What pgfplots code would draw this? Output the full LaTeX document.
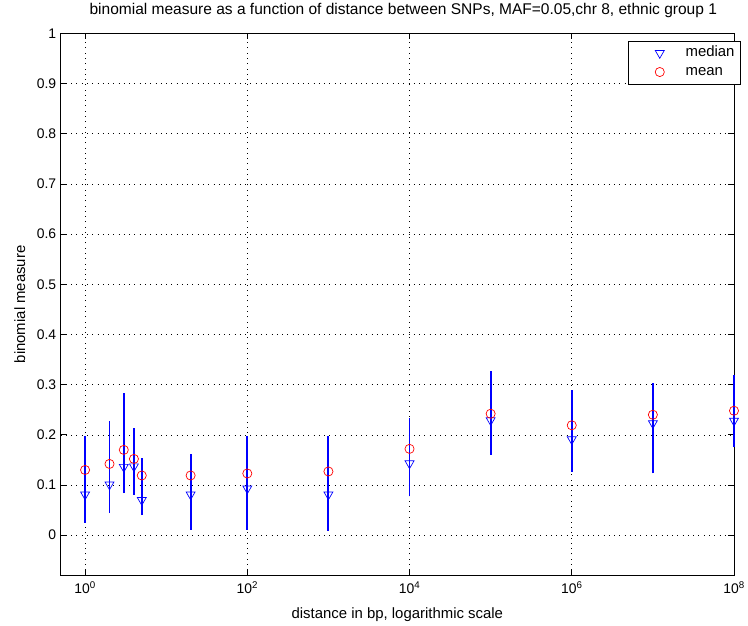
\documentclass[border=0pt]{standalone}
\usepackage{pgfplots}
\pgfplotsset{compat=1.18}
\usepackage{pgfplotstable}
\usepackage{fontspec}
\setmainfont{Liberation Sans}
\pgfplotstableread{
x      med    mean
1      0.081  0.130
2      0.101  0.142
3      0.136  0.170
4      0.137  0.152
5      0.070  0.119
20     0.081  0.119
100    0.093  0.123
1000   0.081  0.127
1e4    0.143  0.172
1e5    0.229  0.242
1e6    0.191  0.219
1e7    0.223  0.240
1e8    0.228  0.248
}\datatable
\begin{document}
\begin{tikzpicture}[x=1pt,y=1pt]
\begin{axis}[
  at={(0pt,0pt)}, anchor=south west,
  scale only axis, width=677pt, height=545pt,
  xmode=log, xmin=0.5, xmax=1e8,
  ymin=-0.08, ymax=1,
  xtick={1,1e2,1e4,1e6,1e8},
  xticklabels={10\textsuperscript{0},10\textsuperscript{2},10\textsuperscript{4},10\textsuperscript{6},10\textsuperscript{8}},
  minor xtick={},
  ytick={0,0.1,0.2,0.3,0.4,0.5,0.6,0.7,0.8,0.9,1},
  yticklabels={0,0.1,0.2,0.3,0.4,0.5,0.6,0.7,0.8,0.9,1},
  tick align=inside, tick pos=both,
  major tick length=6pt,
  grid=major,
  major grid style={black, dash pattern=on 0.8pt off 4.5pt, line width=0.6pt},
  axis line style={black, line width=0.9pt},
  tick style={black, line width=0.7pt},
  title={binomial measure as a function of distance between SNPs, MAF=0.05,chr 8, ethnic group 1},
  title style={at={(0.5,1)}, anchor=base, yshift=12.5pt, xshift=6pt, font=\fontsize{15.6}{18}\selectfont},
  xlabel={distance in bp, logarithmic scale},
  ylabel={binomial measure},
  xlabel style={font=\fontsize{15}{18}\selectfont, at={(0.5,0)}, anchor=base, yshift=-43.7pt},
  ylabel style={font=\fontsize{15}{18}\selectfont, at={(-0.0606,0.5)}, anchor=center},
  x tick label style={font=\fontsize{14}{16}\selectfont, yshift=-3pt},
  y tick label style={font=\fontsize{14}{16}\selectfont, xshift=-1pt},
  legend style={at={(rel axis cs:1.0103,0.9862)}, anchor=north east,
    draw=black, line width=0.8pt, font=\fontsize{15}{18}\selectfont,
    inner xsep=3pt, inner ysep=2.5pt, row sep=0pt, column sep=0pt, legend cell align=left,
    nodes={draw=none, inner xsep=3pt, inner ysep=2.5pt, text height=10.5pt, text depth=3.5pt}},
  legend image code/.code={\path[draw=none, fill=none] (0pt,-5pt) rectangle (52pt,5pt); \draw plot coordinates {(29pt,0pt)};},
  clip=false,
  unbounded coords=jump,
]
\addplot[blue, line width=1.9pt, forget plot] coordinates {
  (1,0.025) (1,0.197) (1,nan)
  (2,0.044) (2,0.228) (2,nan)
  (3,0.084) (3,0.283) (3,nan)
  (4,0.081) (4,0.214) (4,nan)
  (5,0.040) (5,0.154) (5,nan)
  (20,0.011) (20,0.161) (20,nan)
  (100,0.011) (100,0.197) (100,nan)
  (1000,0.009) (1000,0.197) (1000,nan)
  (1e4,0.078) (1e4,0.234) (1e4,nan)
  (1e5,0.160) (1e5,0.328) (1e5,nan)
  (1e6,0.126) (1e6,0.290) (1e6,nan)
  (1e7,0.123) (1e7,0.303) (1e7,nan)
  (1e8,0.175) (1e8,0.319)
};
\addplot[only marks, blue, mark=triangle, mark size=5.2pt,
  mark options={rotate=180, line width=0.7pt, fill=none, solid}]
  table[x=x, y=med] {\datatable};
\addlegendentry{median}
\addplot[only marks, red, mark=o, mark size=4.6pt, mark options={line width=0.7pt}]
  table[x=x, y=mean] {\datatable};
\addlegendentry{mean}
\end{axis}
\useasboundingbox (-61pt,-49.7pt) rectangle (687pt,578.5pt);
\end{tikzpicture}
\end{document}
